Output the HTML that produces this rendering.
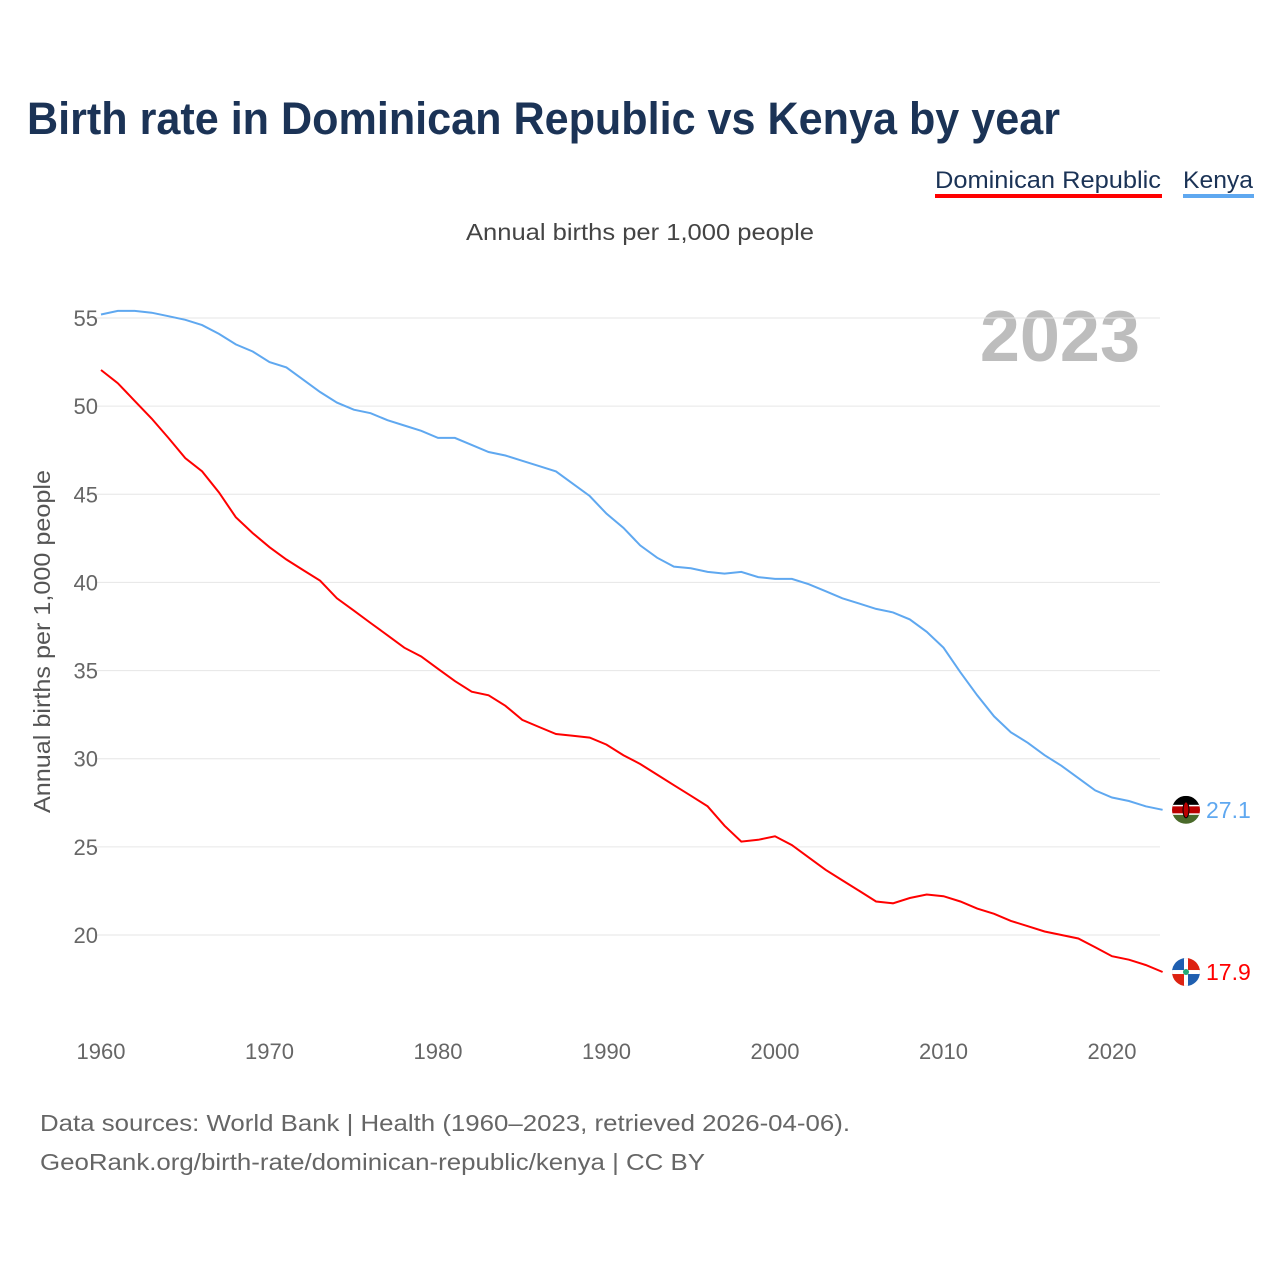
<!DOCTYPE html>
<html><head><meta charset="utf-8"><style>
body{margin:0;background:#fff;font-family:"Liberation Sans",sans-serif}
#wrap{position:relative;width:1280px;height:1280px;overflow:hidden}
</style></head><body><div id="wrap">
<svg id="svg" width="1280" height="1280" font-family="Liberation Sans, sans-serif">
<text x="27" y="134" font-size="45" font-weight="bold" fill="#1b3356" textLength="1033" lengthAdjust="spacingAndGlyphs">Birth rate in Dominican Republic vs Kenya by year</text>
<g><text x="935" y="188" font-size="24" fill="#1b3356" textLength="226" lengthAdjust="spacingAndGlyphs">Dominican Republic</text><rect x="935" y="194" width="227" height="4" fill="#ff0000"/></g>
<g><text x="1183" y="188" font-size="24" fill="#1b3356" textLength="70" lengthAdjust="spacingAndGlyphs">Kenya</text><rect x="1183" y="194" width="71" height="4" fill="#5fa8f0"/></g>
<text x="466" y="240" font-size="23" fill="#444" textLength="348" lengthAdjust="spacingAndGlyphs">Annual births per 1,000 people</text>
<text x="1140" y="361" font-size="72" font-weight="bold" fill="#bdbdbd" text-anchor="end">2023</text>
<text transform="translate(50,813) rotate(-90)" font-size="23" fill="#555" textLength="343" lengthAdjust="spacingAndGlyphs">Annual births per 1,000 people</text>
<g id="grid"></g><g id="lines"></g><g id="labels"></g>
<text x="40" y="1131" font-size="23" fill="#666" textLength="810" lengthAdjust="spacingAndGlyphs">Data sources: World Bank | Health (1960–2023, retrieved 2026-04-06).</text>
<text x="40" y="1170" font-size="23" fill="#666" textLength="665" lengthAdjust="spacingAndGlyphs">GeoRank.org/birth-rate/dominican-republic/kenya | CC BY</text>
</svg></div>
<script>
const years=[];for(let y=1960;y<=2023;y++)years.push(y);
const kenya=[55.2,55.4,55.4,55.3,55.1,54.9,54.6,54.1,53.5,53.1,52.5,52.2,51.5,50.8,50.2,49.8,49.6,49.2,48.9,48.6,48.2,48.2,47.8,47.4,47.2,46.9,46.6,46.3,45.6,44.9,43.9,43.1,42.1,41.4,40.9,40.8,40.6,40.5,40.6,40.3,40.2,40.2,39.9,39.5,39.1,38.8,38.5,38.3,37.9,37.2,36.3,34.9,33.6,32.4,31.5,30.9,30.2,29.6,28.9,28.2,27.8,27.6,27.3,27.1];
const dominican=[52.05,51.3,50.3,49.3,48.2,47.05,46.3,45.1,43.7,42.8,42.0,41.3,40.7,40.1,39.1,38.4,37.7,37.0,36.3,35.8,35.1,34.4,33.8,33.6,33.0,32.2,31.8,31.4,31.3,31.2,30.8,30.2,29.7,29.1,28.5,27.9,27.3,26.2,25.3,25.4,25.6,25.1,24.4,23.7,23.1,22.5,21.9,21.8,22.1,22.3,22.2,21.9,21.5,21.2,20.8,20.5,20.2,20.0,19.8,19.3,18.8,18.6,18.3,17.9];
const yTicks=[20,25,30,35,40,45,50,55];
const xTicks=[1960,1970,1980,1990,2000,2010,2020];
const X=v=>101+(v-1960)*(1011/60);
const Y=v=>318+(55-v)*(617/35);
const NS='http://www.w3.org/2000/svg';
function mk(t,a,p){const e=document.createElementNS(NS,t);for(const k in a)e.setAttribute(k,a[k]);p.appendChild(e);return e;}
const grid=document.getElementById('grid'),lines=document.getElementById('lines'),labels=document.getElementById('labels');
yTicks.forEach(t=>{const l=mk('line',{x1:95,x2:1160,y1:Y(t),y2:Y(t),stroke:'#e6e6e6','stroke-width':1},grid);


const tx=mk('text',{x:98,y:Y(t)+8,'font-size':22,fill:'#666','text-anchor':'end'},labels);tx.textContent=t;

});
xTicks.forEach(t=>{const tx=mk('text',{x:X(t),y:1059,'font-size':22,fill:'#666','text-anchor':'middle'},labels);tx.textContent=t;

});
function series(d,c,n){const p=mk('path',{d:d.map((v,i)=>(i?'L':'M')+X(years[i]).toFixed(1)+','+Y(v).toFixed(1)).join(''),fill:'none',stroke:c,'stroke-width':2},lines);


const last=d[d.length-1],cx=1186,cy=Y(last);
const g=mk('g',{},labels);


mk('clipPath',{id:'c'+n},g);mk('circle',{cx:cx,cy:cy,r:14},g.lastChild);
const cg=mk('g',{'clip-path':'url(#c'+n+')'},g);
if(n==='kenya'){mk('rect',{x:cx-14,y:cy-14,width:28,height:10,fill:'#000'},cg);mk('rect',{x:cx-14,y:cy-4,width:28,height:8,fill:'#b00'},cg);mk('rect',{x:cx-14,y:cy+4,width:28,height:10,fill:'#4a6a2a'},cg);mk('rect',{x:cx-14,y:cy-5,width:28,height:1.5,fill:'#fff'},cg);mk('rect',{x:cx-14,y:cy+3.5,width:28,height:1.5,fill:'#fff'},cg);mk('ellipse',{cx:cx,cy:cy,rx:3,ry:8,fill:'#b00',stroke:'#000'},cg);}
else{mk('rect',{x:cx-14,y:cy-14,width:14,height:14,fill:'#1f5fb0'},cg);mk('rect',{x:cx,y:cy-14,width:14,height:14,fill:'#d21'},cg);mk('rect',{x:cx-14,y:cy,width:14,height:14,fill:'#d21'},cg);mk('rect',{x:cx,y:cy,width:14,height:14,fill:'#1f5fb0'},cg);mk('rect',{x:cx-14,y:cy-2,width:28,height:4,fill:'#fff'},cg);mk('rect',{x:cx-2,y:cy-14,width:4,height:28,fill:'#fff'},cg);mk('circle',{cx:cx,cy:cy,r:3,fill:'#2a7'},cg);}
const t=mk('text',{x:1206,y:cy+8,'font-size':23,fill:c},labels);t.textContent=last;

}
series(kenya,'#5fa8f0','kenya');
series(dominican,'#ff0000','dominican-republic');
</script></body></html>
